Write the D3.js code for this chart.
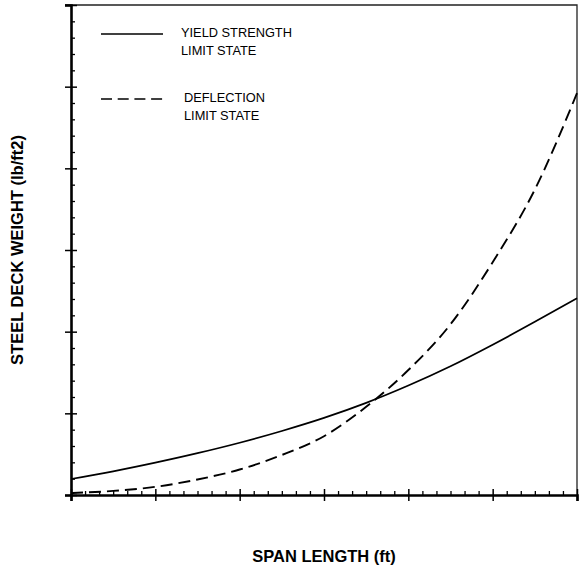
<!DOCTYPE html>
<html>
<head>
<meta charset="utf-8">
<script src="https://cdn.jsdelivr.net/npm/d3@7"></script>
<style>
  body { margin: 0; background: #fff; }
  svg { display: block; font-family: "Liberation Sans", Arial, sans-serif; }
</style>
</head>
<body>
<script>
var width = 580;
var height = 571;

// span (arbitrary units, 6 per major tick) and weight values
var spans = [0, 3, 6, 9, 12, 15, 18, 21, 24, 27, 30, 33, 36];
var yieldWeight = [0.98, 1.45, 1.98, 2.56, 3.2, 3.92, 4.72, 5.64, 6.7, 7.88, 9.2, 10.6, 12.05];
var deflWeight = [0.12, 0.25, 0.5, 0.95, 1.56, 2.45, 3.6, 5.4, 7.65, 10.45, 14.25, 18.7, 24.6];

var xMajor = [0, 6, 12, 18, 24, 30, 36];
var yMajor = [0, 5, 10, 15, 20, 25, 30];
var legendLabels = [["YIELD STRENGTH", "LIMIT STATE"], ["DEFLECTION", "LIMIT STATE"]];

var margin = { left: 71, right: 3, top: 5, bottom: 76 };

var x = d3.scaleLinear().domain([0, 36]).range([margin.left, width - margin.right]);
var y = d3.scaleLinear().domain([0, 30]).range([height - margin.bottom, margin.top]);

var svg = d3.select("body").append("svg")
  .attr("width", width)
  .attr("height", height);

// top + right frame (thin)
svg.append("path")
  .attr("d", "M" + (x(0) - 6) + "," + y(30) + "H" + x(36) + "V" + y(0))
  .attr("fill", "none")
  .attr("stroke", "#222")
  .attr("stroke-width", 1.3);

// minor ticks
var xMinor = d3.range(0, 37, 1).filter(function (d) { return d % 6 !== 0; });
var yMinor = d3.range(0, 31, 1).filter(function (d) { return d % 5 !== 0; });

svg.append("g")
  .attr("transform", "translate(0," + y(0) + ")")
  .call(d3.axisTop(x).tickValues(xMinor).tickSize(4).tickFormat(""))
  .call(function (g) { g.select(".domain").remove(); })
  .selectAll("line").attr("stroke-width", 1.3);

svg.append("g")
  .attr("transform", "translate(" + x(0) + ",0)")
  .call(d3.axisRight(y).tickValues(yMinor).tickSize(4).tickFormat(""))
  .call(function (g) { g.select(".domain").remove(); })
  .selectAll("line").attr("stroke-width", 1.3);

// major ticks crossing the axis
var xAxis = svg.append("g")
  .attr("transform", "translate(0," + y(0) + ")")
  .call(d3.axisBottom(x).tickValues(xMajor).tickSizeOuter(0).tickSize(6).tickFormat(""));
xAxis.selectAll(".tick line").attr("y1", -6).attr("stroke-width", 1.5);
xAxis.select(".domain").attr("stroke-width", 2.6);

var yAxis = svg.append("g")
  .attr("transform", "translate(" + x(0) + ",0)")
  .call(d3.axisLeft(y).tickValues(yMajor).tickSizeOuter(0).tickSize(6).tickFormat(""));
yAxis.selectAll(".tick line").attr("x1", 6).attr("stroke-width", 1.5);
yAxis.select(".domain").attr("stroke-width", 2.6);

// curves
var line = d3.line().curve(d3.curveMonotoneX);

svg.append("path")
  .attr("d", line(spans.map(function (s, i) { return [x(s), y(yieldWeight[i])]; })))
  .attr("fill", "none")
  .attr("stroke", "#000")
  .attr("stroke-width", 1.7);

svg.append("path")
  .attr("d", line(spans.map(function (s, i) { return [x(s), y(deflWeight[i])]; })))
  .attr("fill", "none")
  .attr("stroke", "#000")
  .attr("stroke-width", 1.9)
  .attr("stroke-dasharray", "12,6");

// legend
var legend = svg.append("g");
var legendY = [34, 99];
var legendTextX = [181, 184];
legendLabels.forEach(function (lab, i) {
  legend.append("line")
    .attr("x1", 101).attr("x2", 163)
    .attr("y1", legendY[i]).attr("y2", legendY[i])
    .attr("stroke", "#000")
    .attr("stroke-width", 1.6)
    .attr("stroke-dasharray", i === 1 ? "11,5.7" : null);
  lab.forEach(function (t, j) {
    legend.append("text")
      .attr("x", legendTextX[i])
      .attr("y", legendY[i] + 3 + j * 17.7)
      .attr("font-size", 12.8)
      .attr("fill", "#000")
      .text(t);
  });
});

// axis titles
svg.append("text")
  .attr("x", (x(0) + x(36)) / 2)
  .attr("y", 562)
  .attr("text-anchor", "middle")
  .attr("font-weight", "bold")
  .attr("font-size", 16.5)
  .text("SPAN LENGTH (ft)");

svg.append("text")
  .attr("transform", "translate(23," + (y(15)) + ") rotate(-90)")
  .attr("text-anchor", "middle")
  .attr("font-weight", "bold")
  .attr("font-size", 16.5)
  .text("STEEL DECK WEIGHT (lb/ft2)");
</script>
</body>
</html>
